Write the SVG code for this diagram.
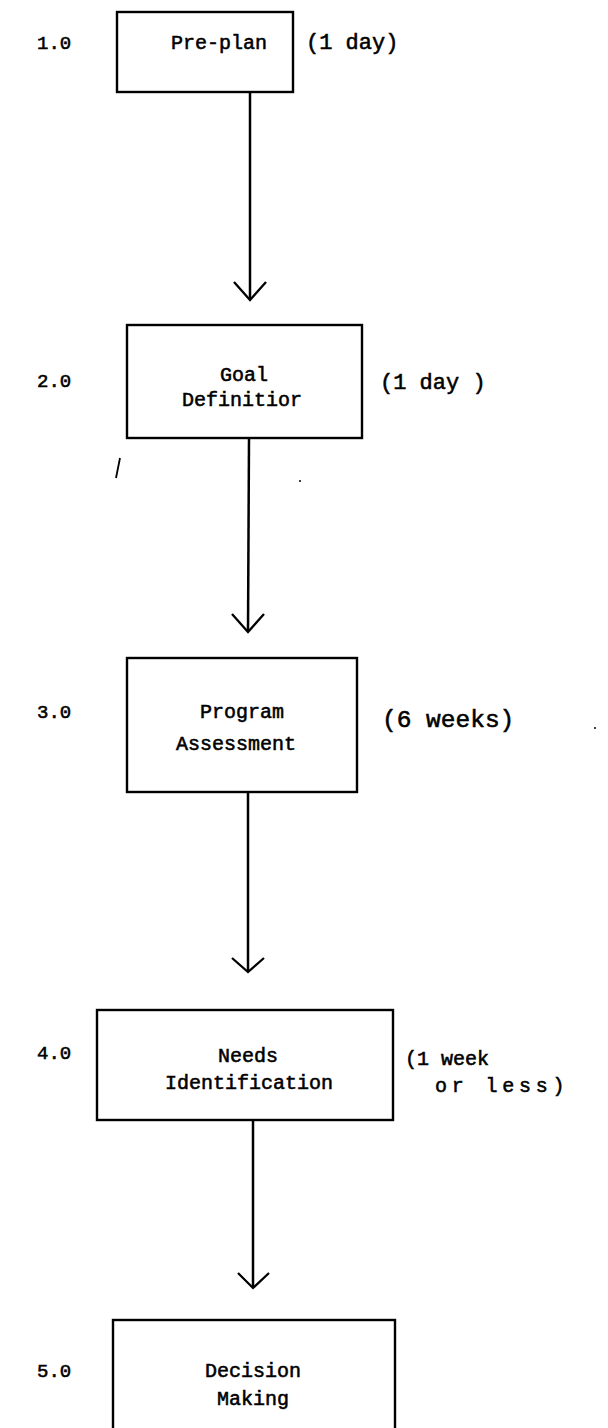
<svg xmlns="http://www.w3.org/2000/svg" width="608" height="1428" viewBox="0 0 608 1428">
<style>
.box{fill:none;stroke:#000;stroke-width:2.4}
.t{font-family:"Liberation Mono","DejaVu Sans Mono",monospace;fill:#000;stroke:#000;stroke-width:0.55}
.b{font-size:20px;text-anchor:middle}
.l{font-size:19px}
.r{font-size:22px}
.ln{fill:none;stroke:#000;stroke-width:2.5}
.hd{fill:none;stroke:#000;stroke-width:2.3;stroke-linejoin:miter}
</style>
<rect width="608" height="1428" fill="#fff"/>
<g id="connectors">
<line class="ln" x1="250" y1="92" x2="250" y2="299"/>
<polyline class="hd" points="234,282 250,300 266,282"/>
<line class="ln" x1="249" y1="438" x2="248" y2="631"/>
<polyline class="hd" points="232,614 248,632 264,614"/>
<line class="ln" x1="248" y1="792" x2="248" y2="971"/>
<polyline class="hd" points="232,958 248,972 264,958"/>
<line class="ln" x1="253" y1="1120" x2="253" y2="1287"/>
<polyline class="hd" points="238,1273 253,1288 269,1273"/>
</g>
<g id="n1">
<rect class="box" x="117" y="12" width="176" height="80"/>
<text class="t b" x="219" y="49">Pre-plan</text>
<text class="t l" x="37" y="49">1.0</text>
<text class="t r" x="306" y="49">(1 day)</text>
</g>
<g id="n2">
<rect class="box" x="127" y="325" width="235" height="113"/>
<text class="t b" x="244" y="381">Goal</text>
<text class="t b" x="242" y="406">Definitior</text>
<text class="t l" x="37" y="387">2.0</text>
<text class="t r" x="380" y="389">(1 day )</text>
</g>
<g id="n3">
<rect class="box" x="127" y="658" width="230" height="134"/>
<text class="t b" x="242" y="718">Program</text>
<text class="t b" x="236" y="750">Assessment</text>
<text class="t l" x="37" y="718">3.0</text>
<text class="t" x="382" y="727" font-size="24.5">(6 weeks)</text>
</g>
<g id="n4">
<rect class="box" x="97" y="1010" width="296" height="110"/>
<text class="t b" x="248" y="1062">Needs</text>
<text class="t b" x="249" y="1089">Identification</text>
<text class="t l" x="37" y="1059">4.0</text>
<text class="t" x="405" y="1065" font-size="20">(1 week</text>
<text class="t" x="435" y="1092" font-size="20" letter-spacing="4.8">or less)</text>
</g>
<g id="n5">
<rect class="box" x="113" y="1320" width="282" height="130"/>
<text class="t b" x="253" y="1377">Decision</text>
<text class="t b" x="253" y="1405">Making</text>
<text class="t l" x="37" y="1377">5.0</text>
</g>
<g id="specks">
<line x1="120" y1="458" x2="116" y2="478" stroke="#000" stroke-width="1.8"/>
<circle cx="300" cy="481" r="1" fill="#000"/>
<circle cx="595" cy="728" r="1" fill="#000"/>
</g>
</svg>
